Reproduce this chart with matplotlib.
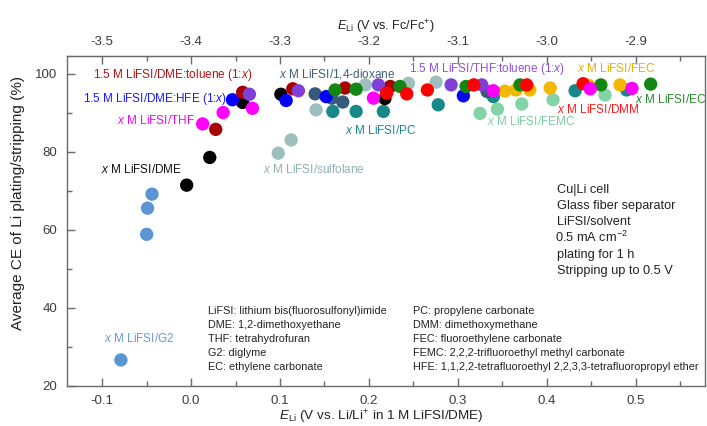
import matplotlib
matplotlib.use("Agg")
import matplotlib.pyplot as plt
from matplotlib.ticker import MultipleLocator, FixedLocator, FormatStrFormatter

plt.rcParams["font.family"] = ["Liberation Sans", "DejaVu Sans"]
plt.rcParams["mathtext.fontset"] = "custom"
plt.rcParams["mathtext.rm"] = "Liberation Sans"
plt.rcParams["mathtext.it"] = "Liberation Sans:italic"
plt.rcParams["mathtext.bf"] = "Liberation Sans:bold"

# Li potential offset between the two scales (Li/Li+ in 1 M LiFSI/DME -> Fc/Fc+)
FC_OFFSET = -3.4

# ---- data: E_Li (V vs. Li/Li+) and average CE (%) per electrolyte family ----
g2_x = [-0.079, -0.050, -0.049, -0.044]
g2_y = [26.6, 58.8, 65.5, 69.1]

sulfolane_x = [0.098, 0.1125, 0.1406, 0.196, 0.2445, 0.2756]
sulfolane_y = [79.6, 83.0, 90.7, 97.1, 97.5, 97.8]

femc_x = [0.325, 0.3446, 0.372, 0.4072, 0.4657]
femc_y = [89.8, 90.9, 92.2, 93.3, 94.5]

pc_x = [0.1594, 0.1856, 0.2163, 0.278, 0.340, 0.432, 0.490]
pc_y = [90.3, 90.3, 90.3, 92.0, 94.1, 95.6, 95.8]

dioxane_x = [0.1395, 0.1583, 0.1706, 0.333]
dioxane_y = [94.8, 93.7, 92.7, 95.4]

dme_x = [-0.005, 0.021, 0.058, 0.101, 0.218]
dme_y = [71.4, 78.5, 92.6, 94.7, 93.6]

hfe_x = [0.0465, 0.1069, 0.1519, 0.3063]
hfe_y = [93.3, 93.1, 94.1, 94.3]

dme_tol_x = [0.0277, 0.058, 0.1144, 0.1732, 0.224]
dme_tol_y = [85.7, 95.2, 96.1, 96.3, 96.7]

thf_tol_x = [0.0656, 0.1207, 0.2107, 0.2925, 0.327]
thf_tol_y = [94.7, 95.6, 97.1, 97.1, 97.1]

fec_x = [0.353, 0.3656, 0.381, 0.404, 0.447, 0.4826]
fec_y = [95.5, 95.8, 95.8, 96.3, 97.0, 97.1]

ec_x = [0.162, 0.1856, 0.235, 0.3093, 0.370, 0.461, 0.517]
ec_y = [95.8, 96.0, 96.7, 96.7, 97.1, 97.1, 97.3]

dmm_x = [0.220, 0.2426, 0.2658, 0.318, 0.3776, 0.441]
dmm_y = [95.0, 94.8, 95.8, 97.1, 97.1, 97.4]

thf_x = [0.013, 0.036, 0.069, 0.2051, 0.340, 0.449, 0.496]
thf_y = [87.1, 90.0, 91.1, 93.7, 95.6, 96.1, 96.2]

fc_ticks = [-3.5, -3.4, -3.3, -3.2, -3.1, -3.0, -2.9]

# (x, y, marker colour, label, label x, label y, label colour), in drawing order
series = [
    (g2_x, g2_y, "#5b96d4", r"$x$ M LiFSI/G2", -0.0975, 32.0, "#6a9ad6"),
    (sulfolane_x, sulfolane_y, "#9dbfbd", r"$x$ M LiFSI/sulfolane", 0.0806, 75.3, "#8fb2b0"),
    (femc_x, femc_y, "#84d3a6", r"$x$ M LiFSI/FEMC", 0.3326, 87.7, "#7fcf9f"),
    (pc_x, pc_y, "#168888", r"$x$ M LiFSI/PC", 0.1732, 85.3, "#1a8a8a"),
    (dioxane_x, dioxane_y, "#375a7a", r"$x$ M LiFSI/1,4-dioxane", 0.0993, 99.9, "#3f5f7e"),
    (dme_x, dme_y, "#000000", r"$x$ M LiFSI/DME", -0.1012, 75.3, "#111111"),
    (hfe_x, hfe_y, "#0000ff", r"1.5 M LiFSI/DME:HFE (1:$x$)", -0.1218, 93.4, "#1a1aff"),
    (dme_tol_x, dme_tol_y, "#a80000", r"1.5 M LiFSI/DME:toluene (1:$x$)", -0.110, 99.7, "#b01515"),
    (thf_tol_x, thf_tol_y, "#8040d8", r"1.5 M LiFSI/THF:toluene (1:$x$)", 0.2456, 101.2, "#9050e0"),
    (fec_x, fec_y, "#f4b800", r"$x$ M LiFSI/FEC", 0.4339, 101.2, "#e8b000"),
    (ec_x, ec_y, "#128712", r"$x$ M LiFSI/EC", 0.499, 93.3, "#2a8a2a"),
    (dmm_x, dmm_y, "#ff0000", r"$x$ M LiFSI/DMM", 0.4113, 90.7, "#ff1a1a"),
    (thf_x, thf_y, "#ff00ff", r"$x$ M LiFSI/THF", -0.083, 88.1, "#ff00ff"),
]

fig = plt.figure(figsize=(7.07, 4.26), dpi=100)
ax = fig.add_axes([0.0943, 0.0946, 0.9027, 0.7739])

for i, (xs, ys, col, lab, lx, ly, lcol) in enumerate(series):
    ax.scatter(xs, ys, s=92, color=col, edgecolors="none", zorder=3 + i * 0.01)
    ax.text(lx, ly, lab, color=lcol, fontsize=8.5, ha="left", va="center", zorder=5)

ax.set_xlim(-0.14, 0.578)
ax.set_ylim(20, 104.5)

spine_col = "#6a6a6a"
tick_col = "#3c3c3c"
label_col = "#222222"
for sp in ax.spines.values():
    sp.set_color(spine_col)
    sp.set_linewidth(1.0)

ax.xaxis.set_major_locator(MultipleLocator(0.1))
ax.xaxis.set_minor_locator(MultipleLocator(0.05))
ax.yaxis.set_major_locator(MultipleLocator(20))
ax.yaxis.set_minor_locator(MultipleLocator(10))
ax.tick_params(which="both", direction="in", colors=spine_col, labelcolor=tick_col,
               labelsize=9.5, top=False, right=False)
ax.tick_params(which="major", length=6, width=1.0, pad=7)
ax.tick_params(which="minor", length=3.5, width=1.0)
ax.xaxis.set_major_formatter(FormatStrFormatter("%.1f"))

ax.set_xlabel(r"$E_{\mathrm{Li}}$ (V vs. Li/Li$^{+}$ in 1 M LiFSI/DME)",
              fontsize=9.7, color=label_col)
ax.xaxis.set_label_coords(0.493, -0.094)
ax.xaxis.label.set_va("center")
ax.set_ylabel("Average CE of Li plating/stripping (%)", fontsize=11, color=label_col)
ax.yaxis.set_label_coords(-0.076, 0.554)
ax.yaxis.label.set_va("center")

# upper scale: potential vs. Fc/Fc+
secax = ax.secondary_xaxis("top", functions=(lambda v: v + FC_OFFSET, lambda v: v - FC_OFFSET))
secax.xaxis.set_major_locator(FixedLocator(fc_ticks))
secax.xaxis.set_minor_locator(MultipleLocator(0.05))
secax.xaxis.set_major_formatter(FormatStrFormatter("%.1f"))
secax.tick_params(which="both", direction="in", colors=spine_col, labelcolor=tick_col,
                  labelsize=9.5)
secax.tick_params(which="major", length=6, width=1.0, pad=6)
secax.tick_params(which="minor", length=3.5, width=1.0)
secax.spines["top"].set_color(spine_col)
secax.set_xlabel(r"$E_{\mathrm{Li}}$ (V vs. Fc/Fc$^{+}$)", fontsize=9.1, color=label_col)
secax.xaxis.set_label_coords(0.5, 1.088, transform=ax.transAxes)
secax.xaxis.label.set_va("center")

# measurement conditions, one line at a time
conditions = [
    "Cu|Li cell",
    "Glass fiber separator",
    "LiFSI/solvent",
    r"0.5 mA cm$^{-2}$",
    "plating for 1 h",
    "Stripping up to 0.5 V",
]
for k, line in enumerate(conditions):
    nudge = -0.0015 if "$" in line else 0.0
    ax.text(0.4114 + nudge, 69.46 - k * 4.19, line, fontsize=9.2, color=label_col,
            ha="left", va="baseline")

abbrev_left = [
    "LiFSI: lithium bis(fluorosulfonyl)imide",
    "DME: 1,2-dimethoxyethane",
    "THF: tetrahydrofuran",
    "G2: diglyme",
    "EC: ethylene carbonate",
]
abbrev_right = [
    "PC: propylene carbonate",
    "DMM: dimethoxymethane",
    "FEC: fluoroethylene carbonate",
    "FEMC: 2,2,2-trifluoroethyl methyl carbonate",
    "HFE: 1,1,2,2-tetrafluoroethyl 2,2,3,3-tetrafluoropropyl ether",
]
for k, line in enumerate(abbrev_left):
    ax.text(0.0188, 38.41 - k * 3.59, line, fontsize=7.8, color=label_col,
            ha="left", va="baseline")
for k, line in enumerate(abbrev_right):
    ax.text(0.250, 38.41 - k * 3.59, line, fontsize=7.8, color=label_col,
            ha="left", va="baseline")

fig.savefig("out.png", dpi=100)
